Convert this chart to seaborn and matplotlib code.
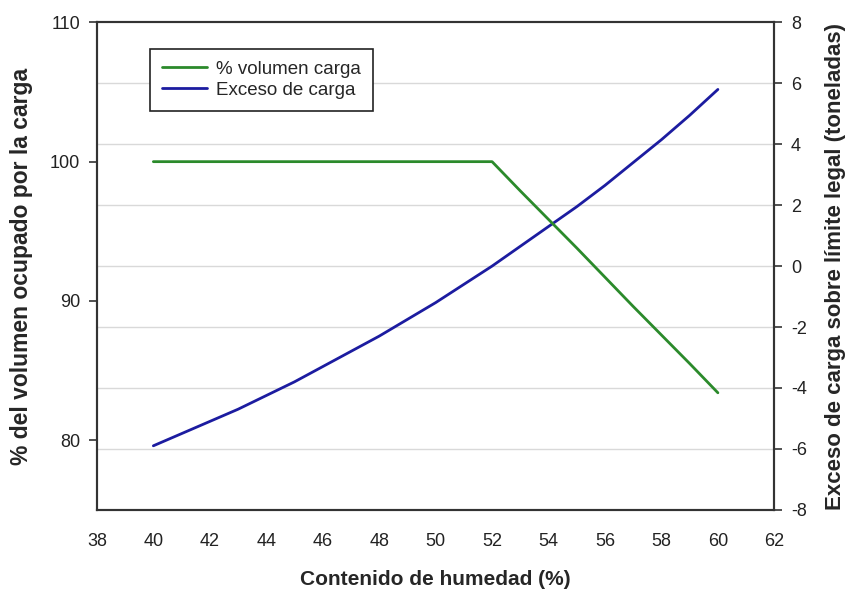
import pandas as pd
import seaborn as sns
import matplotlib.pyplot as plt

# data
humedad = [40, 41, 42, 43, 44, 45, 46, 47, 48, 49, 50,
           51, 52, 53, 54, 55, 56, 57, 58, 59, 60]
volumen = [100, 100, 100, 100, 100, 100, 100, 100, 100, 100, 100,
           100, 100, 97.9, 95.85, 93.8, 91.7, 89.6, 87.55, 85.5, 83.4]
exceso = [-5.9, -5.5, -5.1, -4.7, -4.25, -3.8, -3.3, -2.8, -2.3, -1.75, -1.2,
          -0.6, 0.0, 0.65, 1.3, 1.95, 2.65, 3.4, 4.15, 4.95, 5.8]

x_ticks = [38, 40, 42, 44, 46, 48, 50, 52, 54, 56, 58, 60, 62]
left_ticks = [80, 90, 100, 110]
right_ticks = [-8, -6, -4, -2, 0, 2, 4, 6, 8]
grid_vals = [-6, -4, -2, 0, 2, 4, 6]

df = pd.DataFrame({"humedad": humedad, "volumen": volumen, "exceso": exceso})

sns.set_style("white")
plt.rcParams['font.family'] = ['Liberation Sans', 'DejaVu Sans']
plt.rcParams['axes.unicode_minus'] = False
narrow = ['Liberation Sans Narrow', 'Liberation Sans', 'DejaVu Sans']

fig = plt.figure(figsize=(8.5, 5.9), dpi=100)
ax = fig.add_axes([0.114, 0.136, 0.797, 0.826])
ax2 = ax.twinx()
ax.set_zorder(ax2.get_zorder() + 1)
ax.patch.set_visible(False)

green = '#2b8a2b'
blue = '#1c1ca0'

sns.lineplot(data=df, x="humedad", y="volumen", ax=ax, color=green, linewidth=2,
             label="% volumen carga", legend=False)
sns.lineplot(data=df, x="humedad", y="exceso", ax=ax2, color=blue, linewidth=2,
             label="Exceso de carga", legend=False)

for g in grid_vals:
    ax2.axhline(g, color='#d9d9d9', linewidth=1, zorder=0)

ax.set_xlim(38, 62)
ax.set_ylim(75, 110)
ax2.set_ylim(-8, 8)
ax.set_xticks(x_ticks)
ax.set_yticks(left_ticks)
ax2.set_yticks(right_ticks)

for a in (ax, ax2):
    for s in a.spines.values():
        s.set_visible(True)
        s.set_color('#333333')
        s.set_linewidth(1.5)

ax.tick_params(axis='both', direction='out', length=6, width=1.2, color='#333333',
               labelsize=13, labelcolor='#222222', pad=6)
ax.tick_params(axis='x', pad=11)
ax2.tick_params(axis='y', direction='out', length=6, width=1.2, color='#333333',
                labelsize=13, labelcolor='#222222', pad=6)
for lab in ax.get_xticklabels() + ax.get_yticklabels() + ax2.get_yticklabels():
    lab.set_family(narrow)

ax.set_xlabel("Contenido de humedad (%)", fontsize=15, fontweight='bold',
              family=narrow, labelpad=14)
ax.set_ylabel("% del volumen ocupado por la carga", fontsize=16.5, fontweight='bold',
              labelpad=12)
ax2.set_ylabel("Exceso de carga sobre límite legal (toneladas)", fontsize=16,
               fontweight='bold', labelpad=13)

h1, l1 = ax.get_legend_handles_labels()
h2, l2 = ax2.get_legend_handles_labels()
leg = ax.legend(h1 + h2, l1 + l2, loc='upper left', bbox_to_anchor=(0.078, 0.946),
                fontsize=13.5, frameon=True, fancybox=False, handlelength=2.4,
                handletextpad=0.5, borderpad=0.65, labelspacing=0.2, borderaxespad=0)
leg.get_frame().set_edgecolor('#222222')
leg.get_frame().set_linewidth(1.2)
leg.get_frame().set_alpha(1)

fig.savefig("out.png", dpi=100)
